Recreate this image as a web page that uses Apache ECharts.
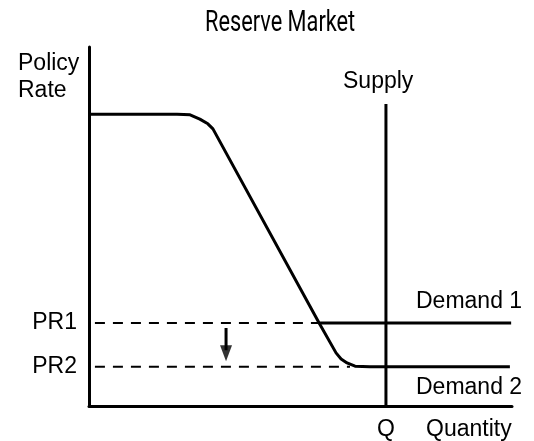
<!DOCTYPE html>
<html>
<head>
<meta charset="utf-8">
<script src="https://cdn.jsdelivr.net/npm/echarts@6/dist/echarts.min.js"></script>
<style>
  html, body { margin: 0; padding: 0; background: #fff; }
  #chart { width: 534px; height: 441px; }
</style>
</head>
<body>
<div id="chart"></div>
<script>
  // quantity on x (0-100), policy rate on y (0-100)
  const demand1X = [0, 20.8, 23.9, 26.2, 28.1, 29.3, 54.4, 99.8]
  const demand1Y = [81.3, 81.3, 81.1, 79.9, 78.6, 77.2, 23.1, 23.1]
  const demand2X = [54.4, 58.4, 59.6, 61.0, 62.9, 66.4, 99.5]
  const demand2Y = [23.1, 14.8, 13.1, 12.0, 11.1, 10.9, 10.9]
  const supplyQ = 70.2
  const supplyY = [0, 84.1]
  const pr1 = 23.1
  const pr2 = 10.9
  const dashStart = 1.4
  const pr1End = 54.4
  const pr2End = 61.7
  const arrowX = 32.4
  const arrowFrom = 21.7
  const arrowTo = 12.5

  const FONT = '"Liberation Sans", Arial, sans-serif'
  const pair = (xs, ys) => xs.map((x, i) => [x, ys[i]])

  const chart = echarts.init(document.getElementById('chart'))

  const solid = { color: '#000', width: 3 }
  const dashed = { color: '#000', width: 2, type: [10, 8] }
  const label = (text, left, top) => ({
    type: 'text', left, top,
    style: { text, font: '23px ' + FONT, lineHeight: 27, fill: '#000' }
  })

  chart.setOption({
    animation: false,
    grid: { left: 89, right: 22, top: 47, bottom: 35 },
    xAxis: {
      type: 'value',
      min: 0,
      max: 100,
      splitLine: { show: false },
      axisTick: { show: false },
      axisLine: { lineStyle: { color: '#000', width: 3 } },
      axisLabel: {
        customValues: [supplyQ],
        formatter: () => 'Q',
        margin: 12,
        color: '#000',
        fontSize: 23,
        fontFamily: FONT
      }
    },
    yAxis: {
      type: 'value',
      min: 0,
      max: 100,
      splitLine: { show: false },
      axisTick: { show: false },
      axisLine: { lineStyle: { color: '#000', width: 3 } },
      axisLabel: {
        customValues: [pr2, pr1],
        formatter: v => (v === pr1 ? 'PR1' : 'PR2'),
        margin: 12,
        color: '#000',
        fontSize: 23,
        fontFamily: FONT
      }
    },
    graphic: [
      {
        type: 'text', left: 205, top: 9, scaleX: 0.75,
        style: { text: 'Reserve Market', font: '29px Roboto', fill: '#000' }
      },
      label('Policy\nRate', 18, 50),
      label('Supply', 343, 68),
      label('Demand 1', 416, 288),
      label('Demand 2', 416, 374),
      label('Quantity', 426, 416)
    ],
    series: [
      {
        type: 'line', data: [[dashStart, pr1], [pr1End, pr1]],
        showSymbol: false, lineStyle: dashed, silent: true
      },
      {
        type: 'line', data: [[dashStart, pr2], [pr2End, pr2]],
        showSymbol: false, lineStyle: dashed, silent: true
      },
      {
        type: 'line', data: pair(demand1X, demand1Y),
        showSymbol: false, lineStyle: solid, silent: true
      },
      {
        type: 'line', data: pair(demand2X, demand2Y),
        showSymbol: false, lineStyle: solid, silent: true
      },
      {
        type: 'line', data: supplyY.map(y => [supplyQ, y]),
        showSymbol: false, lineStyle: solid, silent: true
      },
      {
        type: 'line', data: [[arrowX, arrowFrom], [arrowX, arrowTo + 3]],
        showSymbol: false, lineStyle: { color: '#000', width: 3 }, silent: true
      },
      {
        type: 'scatter', data: [[arrowX, arrowTo]],
        symbol: 'path://M0,0 L12,0 L6,16 Z',
        symbolSize: [12, 16],
        symbolOffset: [0, '-50%'],
        itemStyle: { color: '#000' },
        silent: true
      }
    ]
  })
</script>
</body>
</html>
